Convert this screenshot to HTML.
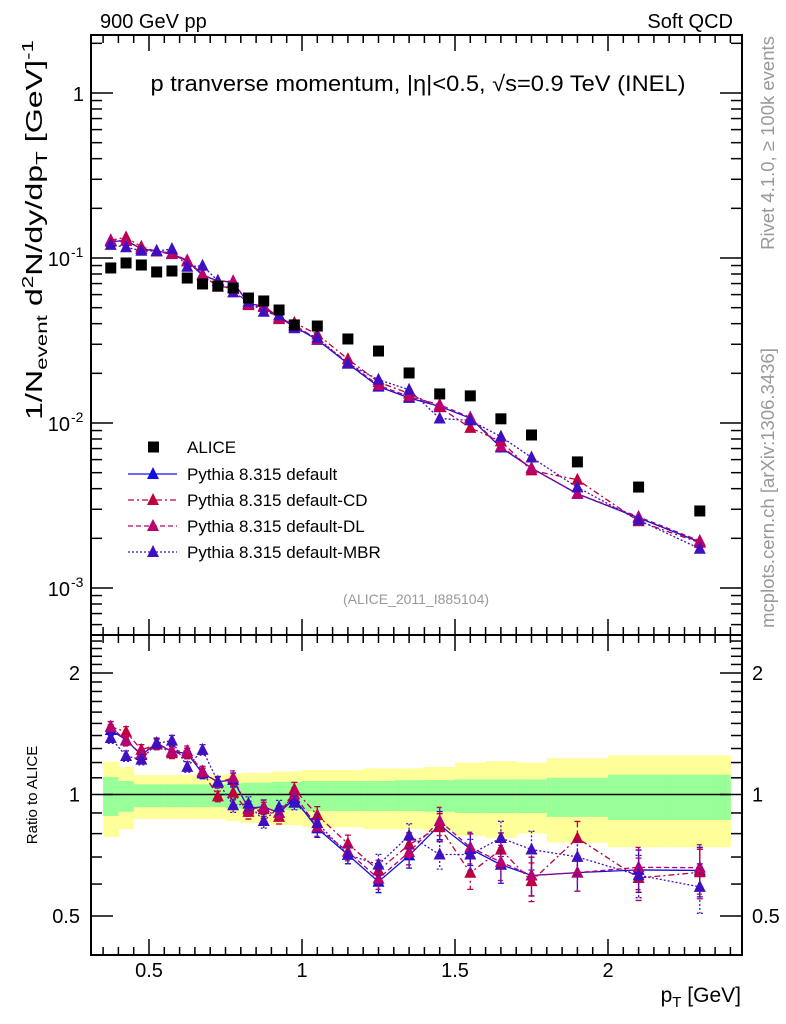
<!DOCTYPE html>
<html><head><meta charset="utf-8">
<style>
html,body{margin:0;padding:0;background:#fff;}
svg{display:block;font-family:"Liberation Sans",Arial,sans-serif;}
</style></head>
<body>
<svg id="chart" width="786" height="1024" viewBox="0 0 786 1024" xmlns="http://www.w3.org/2000/svg">
<text x="100" y="28" font-size="20">900 GeV pp</text>
<text x="733" y="28" font-size="20" text-anchor="end">Soft QCD</text>
<text x="418" y="91" font-size="22" text-anchor="middle" textLength="535" lengthAdjust="spacingAndGlyphs">p tranverse momentum, |η|&lt;0.5, √s=0.9 TeV (INEL)</text>
<text x="416" y="604" font-size="14" fill="#999" text-anchor="middle">(ALICE_2011_I885104)</text>
<text transform="translate(774,143) rotate(-90)" font-size="18.5" fill="#999" text-anchor="middle">Rivet 4.1.0, ≥ 100k events</text>
<text transform="translate(774,488) rotate(-90)" font-size="18.5" fill="#999" text-anchor="middle">mcplots.cern.ch [arXiv:1306.3436]</text>
<text transform="translate(42,230) rotate(-90)" font-size="23" text-anchor="middle" textLength="380" lengthAdjust="spacingAndGlyphs">1/N<tspan font-size="16" dy="5">event</tspan><tspan dy="-5"> d</tspan><tspan font-size="16" dy="-9">2</tspan><tspan dy="9">N/dy/dp</tspan><tspan font-size="16" dy="5">T</tspan><tspan dy="-5"> [GeV]</tspan><tspan font-size="16" dy="-9">-1</tspan></text>
<text transform="translate(37,795) rotate(-90)" font-size="15" text-anchor="middle">Ratio to ALICE</text>
<text x="741" y="1002" font-size="21" text-anchor="end">p<tspan font-size="15" dy="5">T</tspan><tspan dy="-5"> [GeV]</tspan></text>
<g id="bands"></g>
<g id="axes"></g>
<g id="series"></g>
<g id="legend"></g>
</svg>
<script>
const binEdges=[0.35,0.4,0.45,0.5,0.55,0.6,0.65,0.7,0.75,0.8,0.85,0.9,0.95,1.0,1.1,1.2,1.3,1.4,1.5,1.6,1.7,1.8,2.0,2.2,2.4];
const ptCenters=[0.375,0.425,0.475,0.525,0.575,0.625,0.675,0.725,0.775,0.825,0.875,0.925,0.975,1.05,1.15,1.25,1.35,1.45,1.55,1.65,1.75,1.9,2.1,2.3];
const alice=[0.0870,0.0933,0.0907,0.0823,0.0834,0.0756,0.0696,0.0676,0.0658,0.0572,0.0549,0.0484,0.0393,0.0387,0.0323,0.0273,0.0201,0.0150,0.0146,0.0106,0.00846,0.00581,0.00409,0.00293];
const pyDefault=[0.1257,0.1274,0.1136,0.1102,0.1065,0.0956,0.0785,0.0727,0.0715,0.0529,0.0512,0.0436,0.0384,0.0319,0.0229,0.0166,0.0142,0.0126,0.0107,0.0071,0.00533,0.00372,0.00266,0.00190];
const pyCD=[0.1281,0.1334,0.1170,0.1095,0.1055,0.0956,0.0793,0.0669,0.0665,0.0518,0.0505,0.0426,0.0405,0.0344,0.0244,0.0177,0.0151,0.01245,0.00934,0.00774,0.00516,0.00453,0.00254,0.00188];
const pyDL=[0.1279,0.1269,0.1143,0.1103,0.1068,0.0968,0.0793,0.0723,0.0724,0.0526,0.0511,0.0436,0.0393,0.0321,0.0233,0.0169,0.01447,0.0129,0.0108,0.00721,0.00533,0.00372,0.00270,0.00193];
const pyMBR=[0.1201,0.1162,0.1107,0.1102,0.1134,0.0885,0.0898,0.0727,0.0619,0.0543,0.0472,0.0450,0.0375,0.0329,0.0229,0.0183,0.0159,0.01065,0.01037,0.00827,0.00618,0.00407,0.00258,0.00173];
const mcRelErr=[0.03,0.03,0.03,0.03,0.03,0.03,0.03,0.03,0.04,0.04,0.04,0.04,0.04,0.05,0.05,0.06,0.07,0.08,0.09,0.10,0.11,0.10,0.12,0.14];
const greenLo=[0.885,0.906,0.93,0.93,0.93,0.93,0.93,0.93,0.925,0.92,0.92,0.915,0.915,0.91,0.91,0.91,0.91,0.906,0.9,0.9,0.9,0.88,0.865,0.865];
const greenHi=[1.105,1.08,1.06,1.06,1.06,1.06,1.06,1.06,1.065,1.07,1.07,1.075,1.075,1.08,1.08,1.08,1.085,1.086,1.09,1.09,1.09,1.10,1.12,1.12];
const yellowLo=[0.785,0.82,0.87,0.87,0.87,0.87,0.87,0.87,0.86,0.85,0.85,0.84,0.84,0.83,0.83,0.82,0.82,0.81,0.79,0.78,0.80,0.76,0.74,0.74];
const yellowHi=[1.206,1.17,1.117,1.117,1.117,1.117,1.117,1.117,1.125,1.13,1.13,1.14,1.14,1.15,1.15,1.16,1.16,1.17,1.20,1.21,1.20,1.23,1.25,1.25];
const xTickLabels=["0.5","1","1.5","2"];
const xTickValues=[0.5,1,1.5,2];
const ratioTickLabels=["0.5","1","2"];
const ratioTickValues=[0.5,1,2];

const NS="http://www.w3.org/2000/svg";
const L=91,R=742,T=35,MB=635,RB=955;
function X(p){return 302+(p-1)*306;}
function Ym(v){return 93-165*Math.log10(v);}
function Yr(r){return 794.5-175.3*Math.log(r);}
function mk(tag,attrs,parent){const e=document.createElementNS(NS,tag);for(const k in attrs)e.setAttribute(k,attrs[k]);parent.appendChild(e);return e;}
const axes=document.getElementById('axes'),bands=document.getElementById('bands'),series=document.getElementById('series'),legend=document.getElementById('legend');

for(let i=0;i<ptCenters.length;i++){
  const x0=X(binEdges[i]),x1=X(binEdges[i+1]);
  const y=mk('rect',{x:x0,y:Yr(yellowHi[i]),width:x1-x0+0.5,height:Yr(yellowLo[i])-Yr(yellowHi[i]),fill:'#ffff99'},bands);
  
  
  const g=mk('rect',{x:x0,y:Yr(greenHi[i]),width:x1-x0+0.5,height:Yr(greenLo[i])-Yr(greenHi[i]),fill:'#99ff99'},bands);
  
  
}
const one=mk('line',{x1:X(binEdges[0]),x2:X(binEdges[binEdges.length-1]),y1:Yr(1),y2:Yr(1),stroke:'#000','stroke-width':1.5},bands);



const f1=mk('rect',{x:L,y:T,width:R-L,height:MB-T,fill:'none',stroke:'#000','stroke-width':2},axes);


const f2=mk('rect',{x:L,y:MB,width:R-L,height:RB-MB,fill:'none',stroke:'#000','stroke-width':2},axes);



for(let k=6;k<=49;k++){
  const p=k*0.05; const x=X(p); if(x<L+1||x>R-1)continue;
  const major=Math.abs(p-Math.round(p*2)/2)<1e-6; const len=major?16:8;
  [[T,1],[MB,-1],[MB,1],[RB,-1]].forEach(([y0,d])=>{
    const t=mk('line',{x1:x,x2:x,y1:y0,y2:y0+d*len,stroke:'#000','stroke-width':1.5},axes);
    
    
  });
}
xTickValues.forEach((v,i)=>{
  const t=mk('text',{x:X(v),y:977,'font-size':20,'text-anchor':'middle'},axes);
  t.textContent=xTickLabels[i];
  
  
});
for(let d=-4;d<=0;d++){
  for(let m=1;m<=9;m++){
    const v=m*Math.pow(10,d); const y=Ym(v); if(y<T+1||y>MB-1)continue;
    const len=m===1?22:11;
    [[L,1],[R,-1]].forEach(([x0,s])=>{
      const t=mk('line',{x1:x0,x2:x0+s*len,y1:y,y2:y,stroke:'#000','stroke-width':1.5},axes);
      
      
    });
  }
}
[[0,'1',''],[-1,'10','-1'],[-2,'10','-2'],[-3,'10','-3']].forEach(([d,b,e])=>{
  const t=mk('text',{x:e?70:84,y:Ym(Math.pow(10,d))+8,'font-size':20,'text-anchor':'end'},axes);
  t.textContent=b;
  
  
  if(e){const s=mk('tspan',{x:71,dy:-9,'font-size':14,'text-anchor':'start'},t);s.textContent=e;}
});
for(let k=4;k<=25;k++){
  const v=k/10; const y=Yr(v); if(y<MB+1||y>RB-1)continue;
  const major=(k===5||k===10||k===20); const len=major?22:11;
  [[L,1],[R,-1]].forEach(([x0,s])=>{
    const t=mk('line',{x1:x0,x2:x0+s*len,y1:y,y2:y,stroke:'#000','stroke-width':1.5},axes);
    
    
  });
}
ratioTickValues.forEach((v,i)=>{
  const a=mk('text',{x:80,y:Yr(v)+7,'font-size':20,'text-anchor':'end'},axes);
  a.textContent=ratioTickLabels[i];
  
  
  const b=mk('text',{x:752,y:Yr(v)+7,'font-size':20,'text-anchor':'start'},axes);
  b.textContent=ratioTickLabels[i];
  
  
});

const defs=[
  {name:'default',vals:pyDefault,color:'#1010e0',dash:'',label:'Pythia 8.315 default'},
  {name:'default-cd',vals:pyCD,color:'#c0003c',dash:'6,3,2,3',label:'Pythia 8.315 default-CD'},
  {name:'default-dl',vals:pyDL,color:'#b8006e',dash:'5,3',label:'Pythia 8.315 default-DL'},
  {name:'default-mbr',vals:pyMBR,color:'#4010c0',dash:'2,2',label:'Pythia 8.315 default-MBR'}
];
function tri(x,y,c,parent){
  return mk('polygon',{points:`${x},${y-7} ${x-6},${y+5} ${x+6},${y+5}`,fill:c},parent);
}
defs.forEach(s=>{
  const g=mk('g',{},series);
  
  
  let pm='',pr='';
  ptCenters.forEach((p,i)=>{
    const x=X(p),v=s.vals[i],r=v/alice[i];
    pm+=(i?'L':'M')+x+','+Ym(v);
    pr+=(i?'L':'M')+x+','+Yr(r);
  });
  const lm=mk('path',{d:pm,fill:'none',stroke:s.color,'stroke-width':1.3,'stroke-dasharray':s.dash},g);
  
  
  const lr=mk('path',{d:pr,fill:'none',stroke:s.color,'stroke-width':1.3,'stroke-dasharray':s.dash},g);
  
  
  ptCenters.forEach((p,i)=>{
    const x=X(p),v=s.vals[i],r=v/alice[i],e=mcRelErr[i];
    const eb=mk('path',{d:`M${x},${Yr(r*(1+e))}L${x},${Yr(r*(1-e))}M${x-3},${Yr(r*(1+e))}L${x+3},${Yr(r*(1+e))}M${x-3},${Yr(r*(1-e))}L${x+3},${Yr(r*(1-e))}`,stroke:s.color,'stroke-width':1.3,'stroke-dasharray':s.dash,fill:'none'},g);
    
    
    const m1=tri(x,Ym(v),s.color,g);
    
    
    const m2=tri(x,Yr(r),s.color,g);
    
    
  });
});
const ga=mk('g',{},series);


ptCenters.forEach((p,i)=>{
  const q=mk('rect',{x:X(p)-5.5,y:Ym(alice[i])-5.5,width:11,height:11,fill:'#000'},ga);
  
  
});

const ly=[447,474,500,526,552];
const la=mk('rect',{x:148,y:ly[0]-5.5,width:11,height:11,fill:'#000'},legend);


const lt=mk('text',{x:187,y:ly[0]+6,'font-size':17},legend);
lt.textContent='ALICE';


defs.forEach((s,i)=>{
  const y=ly[i+1];
  const l=mk('line',{x1:128,x2:177,y1:y,y2:y,stroke:s.color,'stroke-width':1.3,'stroke-dasharray':s.dash},legend);
  
  
  const m=tri(153,y,s.color,legend);
  
  
  const t=mk('text',{x:187,y:y+6,'font-size':17},legend);
  t.textContent=s.label;
  
  
});
</script>
</body></html>
